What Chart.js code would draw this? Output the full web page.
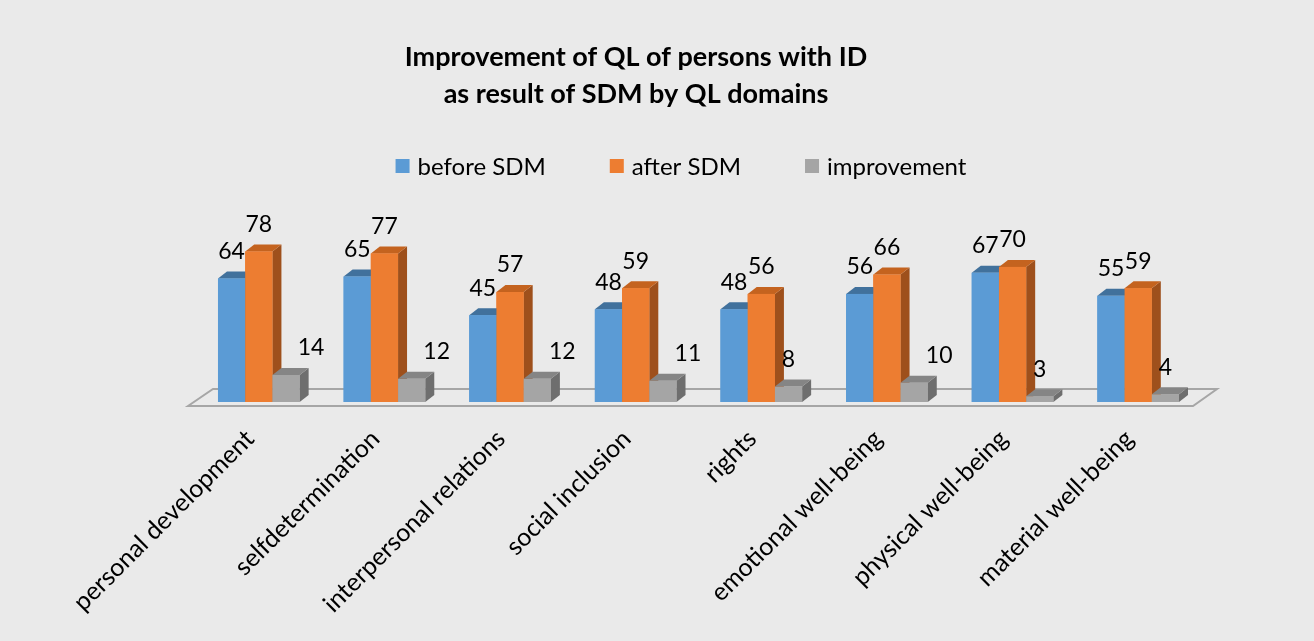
<!DOCTYPE html>
<html>
<head>
<meta charset="utf-8">
<script src="https://cdn.jsdelivr.net/npm/chart.js@4.4.1/dist/chart.umd.min.js"></script>
<style>
    html, body { margin: 0; padding: 0; background: #EAEAEA; }
    #wrap { width: 1314px; height: 641px; }
</style>
</head>
<body>
<div id="wrap"><canvas id="qlChart" width="1314" height="641"></canvas></div>
<script>
const domains = ['personal development', 'selfdetermination', 'interpersonal relations', 'social inclusion',
    'rights', 'emotional well-being', 'physical well-being', 'material well-being'];
const beforeSDM = [64, 65, 45, 48, 48, 56, 67, 55];
const afterSDM = [78, 77, 57, 59, 56, 66, 70, 59];
const improvement = [14, 12, 12, 11, 8, 10, 3, 4];
const seriesNames = ['before SDM', 'after SDM', 'improvement'];
const titleLines = ['Improvement of QL of persons with ID', 'as result of SDM by QL domains'];

const FONT = 'Lato, "Open Sans", sans-serif';
const colors = ['#5B9BD5', '#ED7D31', '#A5A5A5'];
// top / side faces of the fake 3D bars
const shades = [
    { top: '#41719C', side: '#3B6791' },
    { top: '#C4631F', side: '#9E501C' },
    { top: '#858585', side: '#6E6E6E' }
];
const DX = 9, DY = 7;

// floor under the bars
const floorPlugin = {
    id: 'floor',
    beforeDatasetsDraw: (chart) => {
        const { ctx, chartArea: a } = chart;
        ctx.save();
        ctx.strokeStyle = '#A6A6A6';
        ctx.lineWidth = 2;
        ctx.beginPath();
        ctx.moveTo(a.left - 8, a.bottom + 4);
        ctx.lineTo(a.left + 17, a.bottom - 13);
        ctx.lineTo(a.right + 16, a.bottom - 13);
        ctx.lineTo(a.right - 8, a.bottom + 4);
        ctx.closePath();
        ctx.stroke();
        ctx.restore();
    }
};

// Chart.js paints the first series last, so repaint every bar left to right:
// side, top, then front, so the next series hides the hidden faces
const bars3dPlugin = {
    id: 'bars3d',
    afterDatasetsDraw: (chart) => {
        const ctx = chart.ctx;
        chart.data.datasets.forEach((ds, i) => {
            const shade = shades[i];
            chart.getDatasetMeta(i).data.forEach(bar => {
                const { x, y, base, width } = bar.getProps(['x', 'y', 'base', 'width'], true);
                const l = x - width / 2, r = x + width / 2;
                ctx.save();
                ctx.fillStyle = shade.side;
                ctx.beginPath();
                ctx.moveTo(r, y); ctx.lineTo(r + DX, y - DY); ctx.lineTo(r + DX, base - DY); ctx.lineTo(r, base);
                ctx.closePath(); ctx.fill();
                ctx.fillStyle = shade.top;
                ctx.beginPath();
                ctx.moveTo(l, y); ctx.lineTo(l + DX, y - DY); ctx.lineTo(r + DX, y - DY); ctx.lineTo(r, y);
                ctx.closePath(); ctx.fill();
                ctx.fillStyle = colors[i];
                ctx.fillRect(l, y, width, base - y);
                ctx.restore();
            });
        });
    }
};

// value labels above the bars
const valueLabelPlugin = {
    id: 'valueLabels',
    afterDatasetsDraw: (chart) => {
        const ctx = chart.ctx;
        ctx.save();
        ctx.font = '23px ' + FONT;
        ctx.fillStyle = '#000';
        ctx.textAlign = 'center';
        ctx.textBaseline = 'middle';
        chart.data.datasets.forEach((ds, i) => {
            chart.getDatasetMeta(i).data.forEach((bar, j) => {
                const v = ds.data[j];
                let x = bar.x;
                if (i === 2 && v >= 10) x += 25;
                ctx.fillText(String(v), x, bar.y - 27);
            });
        });
        ctx.restore();
    }
};

// title and legend placed like the original
const headerPlugin = {
    id: 'header',
    afterDraw: (chart) => {
        const ctx = chart.ctx;
        ctx.save();
        ctx.fillStyle = '#000';
        ctx.textAlign = 'center';
        ctx.textBaseline = 'middle';
        ctx.font = 'bold 27px ' + FONT;
        ctx.fillText(titleLines[0], 636, 57);
        ctx.fillText(titleLines[1], 636, 94);

        ctx.font = '24px ' + FONT;
        const box = 14, gapText = 8, gapItem = 64;
        const widths = seriesNames.map(n => ctx.measureText(n).width);
        const total = widths.reduce((s, w) => s + box + gapText + w, 0) + gapItem * (seriesNames.length - 1);
        let x = 681 - total / 2;
        const y = 166;
        ctx.textAlign = 'left';
        seriesNames.forEach((n, i) => {
            ctx.fillStyle = colors[i];
            ctx.fillRect(x, y - box / 2, box, box);
            ctx.fillStyle = '#000';
            ctx.fillText(n, x + box + gapText, y + 1);
            x += box + gapText + widths[i] + gapItem;
        });
        ctx.restore();
    }
};

const ctx = document.getElementById('qlChart').getContext('2d');
new Chart(ctx, {
    type: 'bar',
    data: {
        labels: domains,
        datasets: [
            { label: seriesNames[0], data: beforeSDM, backgroundColor: colors[0] },
            { label: seriesNames[1], data: afterSDM, backgroundColor: colors[1] },
            { label: seriesNames[2], data: improvement, backgroundColor: colors[2] }
        ]
    },
    options: {
        responsive: false,
        animation: false,
        categoryPercentage: 0.65,
        barPercentage: 1,
        layout: { padding: { left: 196, right: 113, top: 209, bottom: 0 } },
        plugins: {
            legend: { display: false },
            title: { display: false },
            tooltip: { enabled: false }
        },
        scales: {
            x: {
                grid: { display: false },
                border: { display: false },
                ticks: {
                    color: '#000',
                    font: { family: FONT, size: 25 },
                    minRotation: 45,
                    maxRotation: 45,
                    padding: 14,
                    labelOffset: -9
                },
                afterFit: (scale) => { scale.height = 239; }
            },
            y: { display: false, min: 0, max: 100 }
        }
    },
    plugins: [floorPlugin, bars3dPlugin, valueLabelPlugin, headerPlugin]
});
</script>
</body>
</html>
